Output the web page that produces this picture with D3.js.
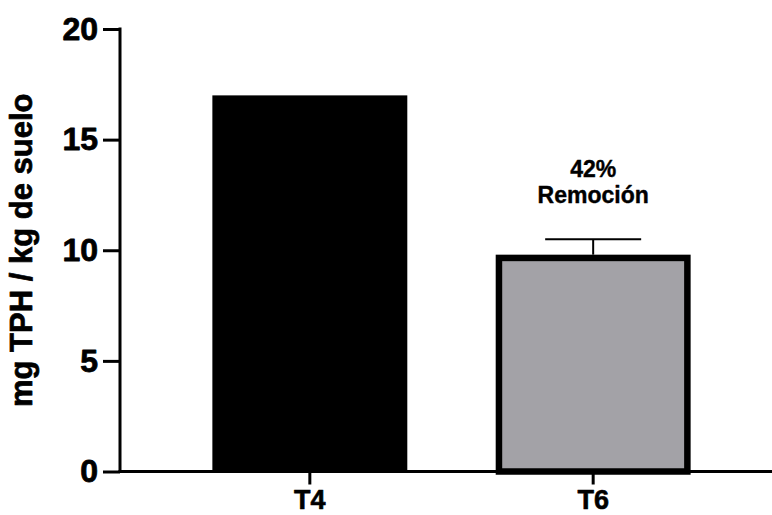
<!DOCTYPE html>
<html>
<head>
<meta charset="utf-8">
<script src="https://cdn.jsdelivr.net/npm/d3@7"></script>
<style>
  html, body { margin: 0; padding: 0; background: #fff; }
  svg { display: block; font-family: "Liberation Sans", Arial, Helvetica, sans-serif; font-weight: bold; }
</style>
</head>
<body>
<svg id="chart" width="772" height="515"></svg>
<script>
// Treatments and measured TPH (mg / kg soil)
const categories = ["T4", "T6"];
const means = [17.0, 9.8];
const errors = [0, 0.7];
const barFills = ["#000000", "#a3a2a7"];
const barStrokes = [0, 6.5];
const yTicks = [0, 5, 10, 15, 20];
const yTitle = "mg TPH / kg de suelo";
const annotation = ["42%", "Remoción"];
const annotatedIndex = 1;

const svg = d3.select("#chart");

const x = d3.scaleBand()
  .domain(categories)
  .range([120, 783])
  .paddingInner(0.312)
  .paddingOuter(0.326);

const y = d3.scaleLinear()
  .domain([0, 20])
  .range([471.5, 29]);

const rows = categories.map((c, i) => ({
  cat: c, mean: means[i], err: errors[i], fill: barFills[i], sw: barStrokes[i]
}));

// bars (border drawn inside the bar extent)
svg.append("g").selectAll("rect")
  .data(rows)
  .join("rect")
  .attr("x", d => x(d.cat) + d.sw / 2)
  .attr("y", d => y(d.mean) + d.sw / 2)
  .attr("width", d => x.bandwidth() - d.sw)
  .attr("height", d => y(0) - y(d.mean) - d.sw / 2)
  .attr("fill", d => d.fill)
  .attr("stroke", d => d.sw > 0 ? "#000" : "none")
  .attr("stroke-width", d => d.sw);

// error bars (upper half)
const eb = svg.append("g")
  .selectAll("g")
  .data(rows.filter(d => d.err > 0))
  .join("g");
eb.append("line")
  .attr("x1", d => x(d.cat) + x.bandwidth() / 2)
  .attr("x2", d => x(d.cat) + x.bandwidth() / 2)
  .attr("y1", d => y(d.mean))
  .attr("y2", d => y(d.mean + d.err))
  .attr("stroke", "#000").attr("stroke-width", 2);
eb.append("line")
  .attr("x1", d => x(d.cat) + x.bandwidth() / 2 - 48)
  .attr("x2", d => x(d.cat) + x.bandwidth() / 2 + 48)
  .attr("y1", d => y(d.mean + d.err))
  .attr("y2", d => y(d.mean + d.err))
  .attr("stroke", "#000").attr("stroke-width", 2);

// heavier glyphs for the labels
function heavy(sel, w) {
  sel.attr("fill", "#000").attr("stroke", "#000").attr("stroke-width", w)
     .attr("stroke-linejoin", "round").attr("font-weight", "bold")
     .attr("font-family", "'Liberation Sans', Arial, sans-serif");
}

// y axis
const yAxis = svg.append("g")
  .attr("transform", "translate(120,0)")
  .call(d3.axisLeft(y).tickValues(yTicks).tickSize(17).tickSizeOuter(0).tickPadding(5));
yAxis.select(".domain").attr("stroke-width", 3).attr("d", `M0,${y(20) - 1.5}V${y(0) + 1.5}`);
yAxis.selectAll(".tick line").attr("stroke-width", 3);
yAxis.selectAll(".tick text").attr("font-size", 32).call(heavy, 0.8);

// x axis
const xAxis = svg.append("g")
  .attr("transform", `translate(0,${y(0)})`)
  .call(d3.axisBottom(x).tickSize(13).tickSizeOuter(0).tickPadding(5));
xAxis.select(".domain").attr("stroke-width", 3).attr("d", "M118.5,0H783");
xAxis.selectAll(".tick line").attr("stroke-width", 3);
xAxis.selectAll(".tick text").attr("font-size", 27).call(heavy, 0.6);

// y axis title
svg.append("text")
  .attr("transform", `translate(32,${(y(0) + y(20)) / 2}) rotate(-90)`)
  .attr("text-anchor", "middle")
  .attr("font-size", 31)
  .call(heavy, 0.7)
  .text(yTitle);

// annotation above T6
const a = rows[annotatedIndex];
const ax = x(a.cat) + x.bandwidth() / 2;
const aTop = y(a.mean + a.err);
svg.append("text")
  .attr("x", ax).attr("y", aTop - 62.5)
  .attr("text-anchor", "middle").attr("font-size", 23)
  .call(heavy, 0.4)
  .text(annotation[0]);
svg.append("text")
  .attr("x", ax).attr("y", aTop - 36)
  .attr("text-anchor", "middle").attr("font-size", 23)
  .call(heavy, 0.4)
  .text(annotation[1]);
</script>
</body>
</html>
